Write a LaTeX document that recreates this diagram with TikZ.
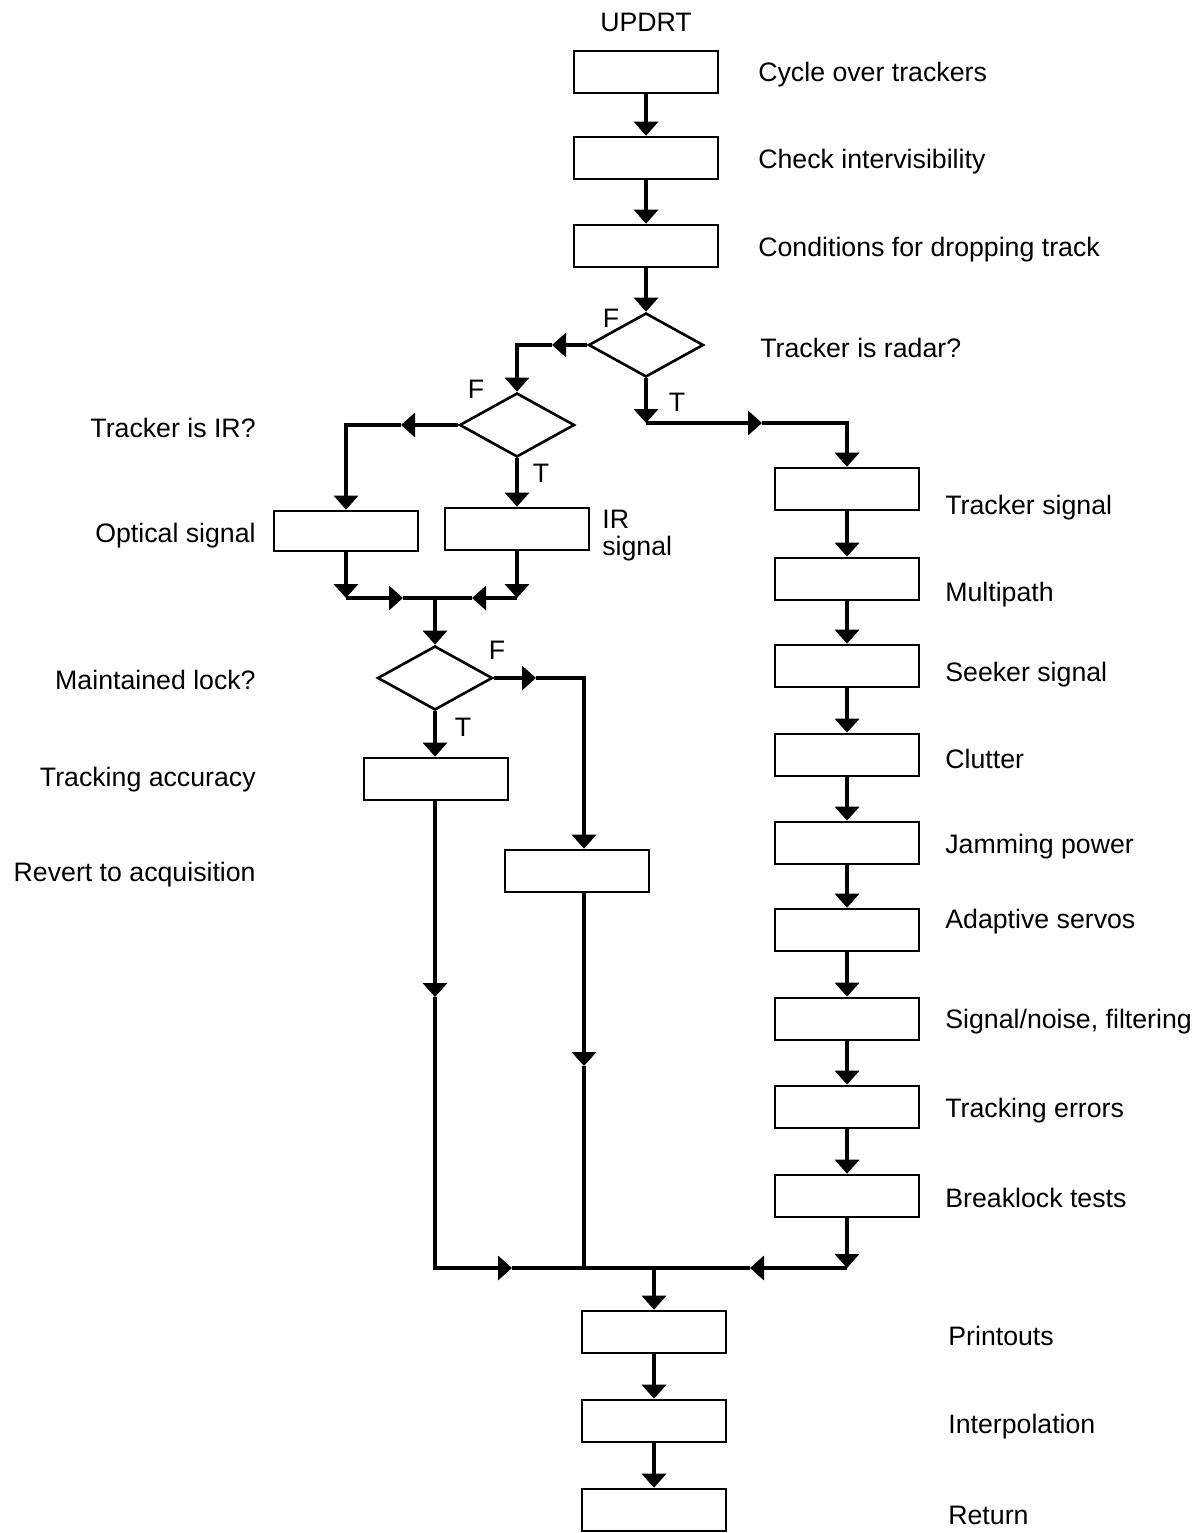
\documentclass[tikz,border=0pt]{standalone}
\usepackage{fontspec}
\setmainfont{Liberation Sans}
\usetikzlibrary{arrows.meta,shapes.geometric}
\begin{document}
\begin{tikzpicture}[x=0.02cm,y=-0.02cm,
  font=\fontsize{15.2}{18}\selectfont,
  box/.style={draw,line width=1.5pt,minimum width=2.88cm,minimum height=0.84cm,inner sep=0pt},
  dec/.style={draw,diamond,line width=1.5pt,minimum width=2.3cm,minimum height=1.28cm,inner sep=0pt,aspect=1.8},
  flow/.style={line width=2.3pt,-{Triangle[width=0.48cm,length=0.28cm]}},
  plain/.style={line width=2.3pt},
  lab/.style={anchor=west,inner sep=0pt,yshift=-0.05cm},
  rlab/.style={anchor=east,inner sep=0pt,yshift=-0.05cm},
  tf/.style={inner sep=0pt},
]
\useasboundingbox (0,0) rectangle (1197,1533);

% main column
\node[tf] (title) at (646,22) {UPDRT};
\node[box] (b1) at (646,72) {};
\node[box] (b2) at (646,158) {};
\node[box] (b3) at (646,246) {};
\node[dec] (d1) at (646,345) {};

\node[lab] at (758,72) {Cycle over trackers};
\node[lab] at (758,159) {Check intervisibility};
\node[lab] at (758,247) {Conditions for dropping track};
\node[lab] at (760,345) {Tracker is radar?};
\node[tf] at (611,318) {F};
\node[tf] at (677,402) {T};

% optical / IR branch
\node[dec] (d2) at (517,425) {};
\node[box,minimum height=0.8cm] (opt) at (346,531) {};
\node[box] (ir) at (517,529) {};
\node[rlab] at (256,425) {Tracker is IR?};
\node[rlab] at (256,533) {Optical signal};
\node[lab] at (602,517) {IR};
\node[lab] at (602,546) {signal};
\node[tf] at (476,389) {F};
\node[tf] at (541,473) {T};

% lock test
\node[dec] (d3) at (435,678) {};
\node[box] (acc) at (436,779) {};
\node[box] (rev) at (577,871) {};
\node[rlab] at (256,677) {Maintained lock?};
\node[rlab] at (256,777) {Tracking accuracy};
\node[rlab] at (256,872) {Revert to acquisition};
\node[tf] at (497,650) {F};
\node[tf] at (463,727) {T};

% radar column
\foreach \n/\yy/\ly/\t in {
  r1/489/505/Tracker signal,
  r2/579/592/Multipath,
  r3/666/672/Seeker signal,
  r4/755/756/Clutter,
  r5/843/844/Jamming power,
  r6/930/919/Adaptive servos,
  r7/1019/1019/{Signal/noise, filtering},
  r8/1107/1108/Tracking errors,
  r9/1196/1195/Breaklock tests}{
  \node[box] (\n) at (847,\yy) {};
  \node[lab] at (945,\ly) {\t};
}

% final steps
\node[box] (p1) at (654,1332) {};
\node[box] (p2) at (654,1421) {};
\node[box] (p3) at (654,1510) {};
\node[lab] at (948,1333) {Printouts};
\node[lab] at (948,1424) {Interpolation};
\node[lab] at (948,1513) {Return};

% junction points
\coordinate (la) at (552,345);
\coordinate (lb) at (517,345);
\coordinate (ta) at (646,423);
\coordinate (tb) at (762,423);
\coordinate (tc) at (847,423);
\coordinate (ia) at (401,425);
\coordinate (ib) at (346,425);
\coordinate (ma) at (346,598);
\coordinate (mb) at (517,598);
\coordinate (mr) at (403,598);
\coordinate (ml) at (472,598);
\coordinate (mc) at (435,598);
\coordinate (fa) at (536,678);
\coordinate (fb) at (584,678);
\coordinate (va) at (435,997);
\coordinate (vb) at (435,1268);
\coordinate (vr) at (512,1268);
\coordinate (wa) at (584,1066);
\coordinate (wb) at (584,1268);
\coordinate (ka) at (847,1268);
\coordinate (kl) at (750,1268);
\coordinate (jn) at (654,1268);

% connectors
\draw[flow] (b1) -- (b2);
\draw[flow] (b2) -- (b3);
\draw[flow] (b3) -- (d1);

\draw[flow] (d1.west) -- (la);
\draw[flow] (la) -- (lb) -- (d2.north);
\draw[flow] (d1.south) -- (ta);
\draw[flow] (ta) -- (tb);
\draw[flow] (tb) -- (tc) -- (r1.north);

\draw[flow] (d2.west) -- (ia);
\draw[flow] (ia) -- (ib) -- (opt.north);
\draw[flow] (d2.south) -- (ir.north);

\draw[flow] (opt.south) -- (ma);
\draw[flow] (ir.south) -- (mb);
\draw[flow] (ma) -- (mr);
\draw[flow] (mb) -- (ml);
\draw[plain] (mr) -- (ml);
\draw[flow] (mc) -- (d3.north);

\draw[flow] (d3.east) -- (fa);
\draw[flow] (fa) -- (fb) -- (fb |- rev.north);
\draw[flow] (d3.south) -- (d3.south |- acc.north);

\draw[flow] (va |- acc.south) -- (va);
\draw[flow] (va) -- (vb) -- (vr);
\draw[flow] (fb |- rev.south) -- (wa);
\draw[plain] (wa) -- (wb);

\foreach \a/\b in {r1/r2,r2/r3,r3/r4,r4/r5,r5/r6,r6/r7,r7/r8,r8/r9}
  \draw[flow] (\a) -- (\b);
\draw[flow] (r9.south) -- (ka);
\draw[flow] (ka) -- (kl);
\draw[plain] (kl) -- (vr);

\draw[flow] (jn) -- (p1.north);
\draw[flow] (p1) -- (p2);
\draw[flow] (p2) -- (p3);
\end{tikzpicture}
\end{document}
